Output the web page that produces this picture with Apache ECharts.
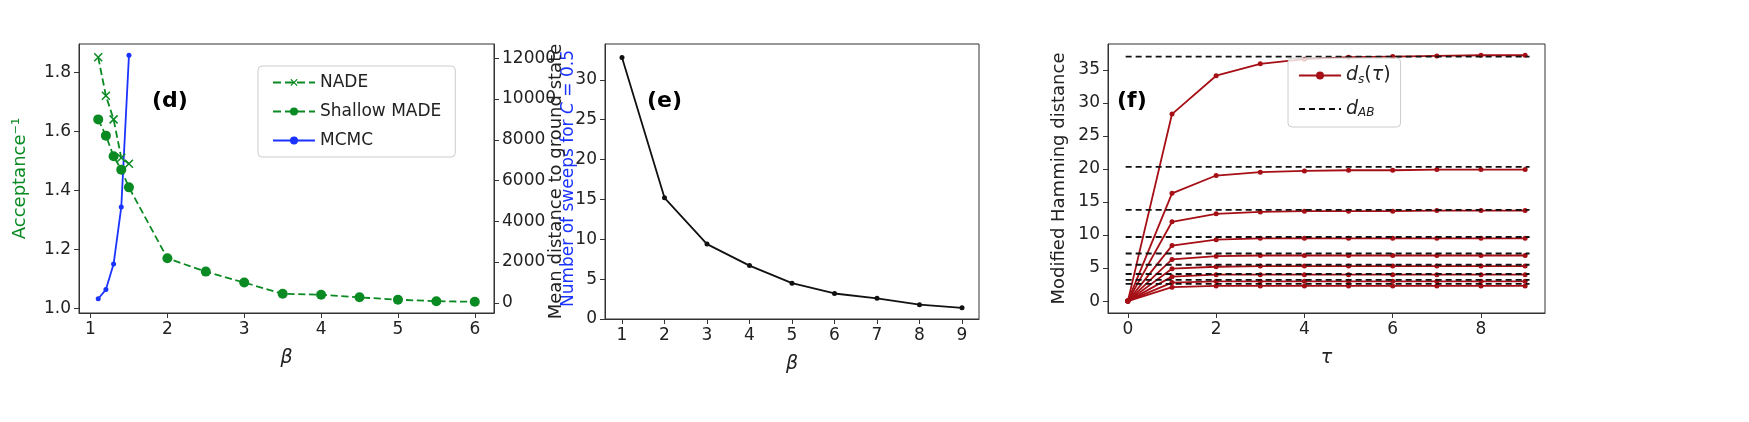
<!DOCTYPE html>
<html lang="en">
<head>
<meta charset="UTF-8">
<title>Chart</title>
<style>
  html, body { margin: 0; padding: 0; background: #fff; }
  #chart { width: 1749px; height: 422px; }
</style>
</head>
<body>
<div id="chart"></div>
<script src="https://cdn.jsdelivr.net/npm/echarts@6/dist/echarts.min.js"></script>
<script>
// panel (d)
const betaNade = [1.1, 1.2, 1.3, 1.4, 1.5]
const nade = [1.85, 1.72, 1.64, 1.51, 1.49]
const betaMade = [1.1, 1.2, 1.3, 1.4, 1.5, 2, 2.5, 3, 3.5, 4, 4.5, 5, 5.5, 6]
const made = [1.64, 1.585, 1.515, 1.47, 1.41, 1.17, 1.125, 1.088, 1.05, 1.047, 1.038, 1.03, 1.025, 1.023]
const betaMcmc = [1.1, 1.2, 1.3, 1.4, 1.5]
const mcmc = [200, 650, 1900, 4700, 12150]
const ticksDx = [1, 2, 3, 4, 5, 6]
const ticksDy = [1.0, 1.2, 1.4, 1.6, 1.8]
const ticksDy2 = [0, 2000, 4000, 6000, 8000, 10000, 12000]
// panel (e)
const betaE = [1, 2, 3, 4, 5, 6, 7, 8, 9]
const meanDist = [32.8, 15.2, 9.4, 6.7, 4.5, 3.2, 2.6, 1.8, 1.4]
const ticksEx = [1, 2, 3, 4, 5, 6, 7, 8, 9]
const ticksEy = [0, 5, 10, 15, 20, 25, 30]
// panel (f)
const tau = [0, 1, 2, 3, 4, 5, 6, 7, 8, 9]
const dAB = [37, 20.3, 13.8, 9.7, 7.2, 5.5, 4.1, 3.2, 2.6]
const dsCurves = [
  [0, 28.3, 34.1, 35.9, 36.6, 36.9, 37.0, 37.1, 37.2, 37.2],
  [0, 16.3, 19.0, 19.5, 19.7, 19.8, 19.8, 19.9, 19.9, 19.9],
  [0, 12.0, 13.2, 13.5, 13.6, 13.6, 13.6, 13.7, 13.7, 13.7],
  [0, 8.4, 9.3, 9.5, 9.5, 9.5, 9.5, 9.5, 9.5, 9.5],
  [0, 6.3, 6.8, 6.9, 6.9, 6.9, 6.9, 6.9, 6.9, 6.9],
  [0, 4.9, 5.2, 5.3, 5.3, 5.3, 5.3, 5.3, 5.3, 5.3],
  [0, 3.7, 4.0, 4.0, 4.0, 4.0, 4.0, 4.0, 4.0, 4.0],
  [0, 2.8, 3.0, 3.0, 3.0, 3.0, 3.0, 3.0, 3.0, 3.0],
  [0, 2.1, 2.3, 2.3, 2.3, 2.3, 2.3, 2.3, 2.3, 2.3]
]
const ticksFx = [0, 2, 4, 6, 8]
const ticksFy = [0, 5, 10, 15, 20, 25, 30, 35]

const green = '#0a8a22'
const blue = '#1a33ff'
const red = '#a50f15'
const font = 'DejaVu Sans'
const zip = (xs, ys) => xs.map((x, i) => [x, ys[i]])

function axis(ticks, fmt, extra) {
  return Object.assign({
    type: 'value',
    axisLine: { show: true, onZero: false, lineStyle: { color: '#333' } },
    axisTick: { show: true, length: 5, customValues: ticks, lineStyle: { color: '#333' } },
    axisLabel: { color: '#222', fontSize: 17, fontFamily: font, margin: 8, customValues: ticks, formatter: fmt },
    splitLine: { show: false },
    nameTextStyle: { color: '#222', fontSize: 18, fontFamily: font }
  }, extra)
}
const italicName = { fontSize: 19, fontStyle: 'italic', fontFamily: font, color: '#222' }

const series = [
  { type: 'line', name: 'NADE', xAxisIndex: 0, yAxisIndex: 0, data: zip(betaNade, nade),
    symbol: 'image://data:image/svg+xml;utf8,' + encodeURIComponent('<svg xmlns="http://www.w3.org/2000/svg" width="10" height="10"><path d="M1 1L9 9M9 1L1 9" stroke="#0a8a22" stroke-width="1.5"/></svg>'),
    symbolSize: 10, lineStyle: { color: green, type: 'dashed', width: 1.8 }, itemStyle: { color: green } },
  { type: 'line', name: 'Shallow MADE', xAxisIndex: 0, yAxisIndex: 0, data: zip(betaMade, made),
    symbol: 'circle', symbolSize: 10, lineStyle: { color: green, type: 'dashed', width: 1.8 }, itemStyle: { color: green } },
  { type: 'line', name: 'MCMC', xAxisIndex: 0, yAxisIndex: 1, data: zip(betaMcmc, mcmc),
    symbol: 'circle', symbolSize: 5, lineStyle: { color: blue, width: 1.8 }, itemStyle: { color: blue } },
  { type: 'line', xAxisIndex: 1, yAxisIndex: 2, data: zip(betaE, meanDist),
    symbol: 'circle', symbolSize: 5, lineStyle: { color: '#111', width: 1.8 }, itemStyle: { color: '#111' } }
]
dAB.forEach((v, i) => series.push({
  type: 'line', name: i === 0 ? 'd_AB' : undefined, xAxisIndex: 2, yAxisIndex: 3,
  data: [[-0.05, v], [9.1, v]], symbol: 'none', z: 3,
  lineStyle: { color: '#111', type: [6, 4], width: 1.8 }, itemStyle: { color: '#111' }
}))
dsCurves.forEach((c, i) => series.push({
  type: 'line', name: i === 0 ? 'd_s' : undefined, xAxisIndex: 2, yAxisIndex: 3,
  data: zip(tau, c), symbol: 'circle', symbolSize: 5, z: 2,
  lineStyle: { color: red, width: 1.8 }, itemStyle: { color: red }
}))

const chart = echarts.init(document.getElementById('chart'))
chart.setOption({
  animation: false,
  textStyle: { fontFamily: font },
  grid: [
    { left: 79, right: 1255, top: 44, bottom: 109, show: true, borderColor: '#333', borderWidth: 1 },
    { left: 605, right: 770, top: 44, bottom: 103, show: true, borderColor: '#333', borderWidth: 1 },
    { left: 1108, right: 204, top: 44, bottom: 109, show: true, borderColor: '#333', borderWidth: 1 }
  ],
  xAxis: [
    axis(ticksDx, v => v, { gridIndex: 0, min: 0.85, max: 6.25, name: 'β', nameLocation: 'middle', nameGap: 36, nameTextStyle: italicName }),
    axis(ticksEx, v => v, { gridIndex: 1, min: 0.6, max: 9.4, name: 'β', nameLocation: 'middle', nameGap: 36, nameTextStyle: italicName }),
    axis(ticksFx, v => v, { gridIndex: 2, min: -0.45, max: 9.45, name: 'τ', nameLocation: 'middle', nameGap: 36, nameTextStyle: italicName })
  ],
  yAxis: [
    axis(ticksDy, v => v.toFixed(1), { gridIndex: 0, min: 0.985, max: 1.895, name: 'Acceptance⁻¹', nameLocation: 'middle', nameGap: 50,
      nameTextStyle: { color: green, fontSize: 18, fontFamily: font } }),
    axis(ticksDy2, v => v, { gridIndex: 0, position: 'right', min: -500, max: 12700,
      name: '{a|Number of sweeps for }{i|C}{a| = 0.5}', nameLocation: 'middle', nameGap: 66, nameRotate: 90,
      nameTextStyle: { rich: { a: { color: blue, fontSize: 17, fontFamily: font }, i: { color: blue, fontSize: 17, fontStyle: 'italic', fontFamily: font } } } }),
    axis(ticksEy, v => v, { gridIndex: 1, min: 0, max: 34.5, name: 'Mean distance to ground state', nameLocation: 'middle', nameGap: 40 }),
    axis(ticksFy, v => v, { gridIndex: 2, min: -1.8, max: 38.9, name: 'Modified Hamming distance', nameLocation: 'middle', nameGap: 40 })
  ],
  legend: [
    { data: ['NADE', 'Shallow MADE', 'MCMC'], orient: 'vertical', left: 258, top: 66, itemGap: 12, itemWidth: 42, itemHeight: 10,
      padding: [8, 14], borderColor: '#ccc', borderWidth: 1, borderRadius: 4, backgroundColor: '#fff',
      textStyle: { fontSize: 17, color: '#222', fontFamily: font } },
    { data: ['d_s', { name: 'd_AB', itemStyle: { opacity: 0 } }], orient: 'vertical', left: 1288, top: 58, itemGap: 14, itemWidth: 42, itemHeight: 10,
      padding: [8, 10], borderColor: '#ccc', borderWidth: 1, borderRadius: 4, backgroundColor: 'rgba(255,255,255,0.8)',
      formatter: n => n === 'd_s' ? '{i|d}{s|s}{a|(}{i|τ}{a|)}' : '{i|d}{s|AB}',
      textStyle: { fontSize: 18, color: '#222', fontFamily: font,
        rich: { i: { fontStyle: 'italic', fontSize: 19, fontFamily: font }, a: { fontSize: 19, fontFamily: font }, s: { fontStyle: 'italic', fontSize: 12, fontFamily: font, verticalAlign: 'bottom', padding: [8, 0, 0, 0] } } } }
  ],
  graphic: [
    { type: 'text', left: 152, top: 90, style: { text: '(d)', font: 'bold 22px "DejaVu Sans"', fill: '#000' } },
    { type: 'text', left: 647, top: 90, style: { text: '(e)', font: 'bold 22px "DejaVu Sans"', fill: '#000' } },
    { type: 'text', left: 1117, top: 90, style: { text: '(f)', font: 'bold 22px "DejaVu Sans"', fill: '#000' } }
  ],
  series: series
})
</script>
</body>
</html>
